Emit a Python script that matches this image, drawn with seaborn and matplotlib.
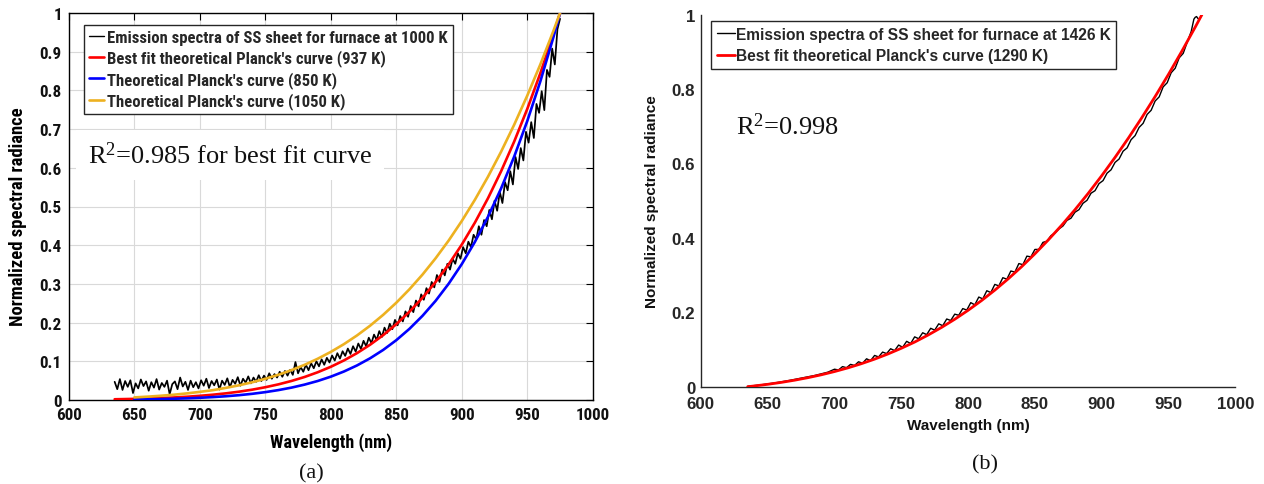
import numpy as np
import pandas as pd
import matplotlib
matplotlib.use("Agg")
import matplotlib.pyplot as plt
from matplotlib.lines import Line2D
from matplotlib import font_manager as fm
import seaborn as sns

sns.set_theme(style="white")
plt.rcParams["font.family"] = ["Liberation Sans", "DejaVu Sans"]
plt.rcParams["mathtext.fontset"] = "custom"
plt.rcParams["mathtext.rm"] = "Liberation Serif"
plt.rcParams["mathtext.it"] = "Liberation Serif:italic"
plt.rcParams["mathtext.bf"] = "Liberation Serif:bold"

SANS = ["Liberation Sans", "DejaVu Sans"]
SERIF = ["Liberation Serif", "DejaVu Serif"]

# panel (a) uses a condensed sans face when one is installed
_installed = {f.name for f in fm.fontManager.ttflist}
_condensed = [n for n in ("Liberation Sans Narrow", "Roboto Condensed",
                          "Arial Narrow") if n in _installed]
if _condensed:
    NARROW = [_condensed[0]] + SANS
    SZ_TICK_A, SZ_LEG_A, SZ_XLAB_A, SZ_YLAB_A = 12.3, 12.0, 13.0, 13.4
else:
    NARROW = SANS
    SZ_TICK_A, SZ_LEG_A, SZ_XLAB_A, SZ_YLAB_A = 10.6, 10.2, 11.0, 11.4

# ---------------- panel (a): furnace at 1000 K ----------------
# measured emission spectrum, 2 nm sampling (635 ... 975 nm)
wl_meas_a = np.arange(635, 976, 2)
emis_a = [
    0.047, 0.028, 0.054, 0.026, 0.049, 0.034, 0.051, 0.018, 0.043, 0.030,
    0.053, 0.036, 0.048, 0.024, 0.046, 0.032, 0.054, 0.027, 0.044, 0.034,
    0.050, 0.015, 0.041, 0.048, 0.028, 0.058, 0.035, 0.047, 0.026, 0.050,
    0.033, 0.046, 0.030, 0.051, 0.037, 0.055, 0.031, 0.049, 0.038, 0.053,
    0.027, 0.050, 0.039, 0.056, 0.033, 0.052, 0.042, 0.059, 0.037, 0.055,
    0.045, 0.061, 0.043, 0.058, 0.047, 0.064, 0.049, 0.063, 0.052, 0.069,
    0.055, 0.067, 0.058, 0.073, 0.060, 0.075, 0.063, 0.078, 0.065, 0.098,
    0.069, 0.085, 0.073, 0.091, 0.077, 0.095, 0.082, 0.100, 0.087, 0.105,
    0.091, 0.109, 0.097, 0.115, 0.102, 0.121, 0.107, 0.126, 0.114, 0.133,
    0.119, 0.139, 0.125, 0.146, 0.132, 0.153, 0.139, 0.161, 0.147, 0.169,
    0.155, 0.178, 0.163, 0.187, 0.173, 0.197, 0.183, 0.207, 0.193, 0.217,
    0.203, 0.229, 0.215, 0.243, 0.227, 0.257, 0.242, 0.273, 0.259, 0.289,
    0.275, 0.305, 0.291, 0.323, 0.305, 0.337, 0.322, 0.352, 0.337, 0.365,
    0.352, 0.379, 0.365, 0.395, 0.379, 0.409, 0.395, 0.427, 0.415, 0.449,
    0.427, 0.465, 0.449, 0.491, 0.467, 0.515, 0.489, 0.538, 0.509, 0.563,
    0.542, 0.591, 0.557, 0.628, 0.597, 0.651, 0.619, 0.693, 0.665, 0.718,
    0.677, 0.765, 0.742, 0.798, 0.749, 0.853, 0.835, 0.908, 0.867, 0.958,
    0.985,
]

wl_fit_937 = [635, 640, 650, 660, 670, 680, 690, 700, 710, 720, 730, 740,
              750, 760, 770, 780, 790, 800, 810, 820, 830, 840, 850, 860,
              870, 880, 890, 900, 910, 920, 930, 940, 950, 960, 970, 975]
fit_937 = [0.0019, 0.0022, 0.0029, 0.0038, 0.0050, 0.0065, 0.0084, 0.0108,
           0.0137, 0.0172, 0.0215, 0.0267, 0.0330, 0.0404, 0.0492, 0.0595,
           0.0717, 0.0858, 0.1022, 0.1211, 0.1428, 0.1676, 0.1959, 0.2280,
           0.2642, 0.3049, 0.3506, 0.4016, 0.4584, 0.5214, 0.5911, 0.6679,
           0.7523, 0.8448, 0.9460, 1.0]

wl_theory = [650, 660, 670, 680, 690, 700, 710, 720, 730, 740, 750, 760,
             770, 780, 790, 800, 810, 820, 830, 840, 850, 860, 870, 880,
             890, 900, 910, 920, 930, 940, 950, 960, 970, 975]
planck_850 = [0.0013, 0.0018, 0.0024, 0.0032, 0.0043, 0.0057, 0.0075, 0.0097,
              0.0125, 0.0160, 0.0203, 0.0256, 0.0320, 0.0398, 0.0491, 0.0603,
              0.0736, 0.0893, 0.1078, 0.1294, 0.1546, 0.1838, 0.2175, 0.2562,
              0.3006, 0.3512, 0.4086, 0.4735, 0.5467, 0.6290, 0.7211, 0.8238,
              0.9382, 1.0]
planck_1050 = [0.0067, 0.0086, 0.0109, 0.0136, 0.0170, 0.0210, 0.0254, 0.0314,
               0.0380, 0.0458, 0.0548, 0.0652, 0.0772, 0.0909, 0.1066, 0.1243,
               0.1443, 0.1668, 0.1920, 0.2201, 0.2514, 0.2860, 0.3241, 0.3662,
               0.4122, 0.4626, 0.5174, 0.5770, 0.6416, 0.7114, 0.7867, 0.8675,
               0.9543, 1.0]

labels_a = ["Emission spectra of SS sheet for furnace at 1000 K",
            "Best fit theoretical Planck's curve (937 K)",
            "Theoretical Planck's curve (850 K)",
            "Theoretical Planck's curve (1050 K)"]

# ---------------- panel (b): furnace at 1426 K ----------------
wl_meas_b = [635, 645, 655, 665, 675, 685, 695,
             700, 703, 706, 709, 712, 715, 718, 721, 724, 727, 730, 733, 736,
             739, 742, 745, 748, 751, 754, 757, 760, 763, 766, 769, 772, 775,
             778, 781, 784, 787, 790, 793, 796, 799, 802, 805, 808, 811, 814,
             817, 820, 823, 826, 829, 832, 835, 838, 841, 844, 847, 850, 853,
             856, 859, 862, 865,
             868, 871, 874, 877, 880, 883, 886, 889, 892, 895, 898, 901, 904,
             907, 910, 913, 916, 919, 922, 925, 928, 931, 934, 937, 940, 943,
             946, 949, 952, 955, 958, 961, 964, 967, 969, 970, 971, 972, 973]
emis_b = [0.001, 0.005, 0.010, 0.016, 0.023, 0.030, 0.039,
          0.047, 0.045, 0.054, 0.051, 0.060, 0.057, 0.067, 0.063, 0.075, 0.070,
          0.084, 0.080, 0.093, 0.089, 0.102, 0.097, 0.112, 0.106, 0.122, 0.116,
          0.134, 0.129, 0.145, 0.140, 0.157, 0.152, 0.169, 0.164, 0.182, 0.178,
          0.195, 0.192, 0.210, 0.206, 0.226, 0.220, 0.241, 0.236, 0.258, 0.253,
          0.275, 0.271, 0.293, 0.289, 0.311, 0.308, 0.331, 0.328, 0.351, 0.349,
          0.369, 0.369, 0.388, 0.391, 0.406, 0.413,
          0.424, 0.432, 0.447, 0.453, 0.469, 0.476, 0.493, 0.501, 0.520, 0.527,
          0.546, 0.554, 0.574, 0.583, 0.603, 0.612, 0.633, 0.642, 0.664, 0.675,
          0.697, 0.708, 0.732, 0.743, 0.768, 0.779, 0.806, 0.817, 0.844, 0.856,
          0.884, 0.896, 0.926, 0.955, 0.988, 0.993, 0.995, 0.990, 0.987]

wl_fit_1290 = [635, 640, 650, 660, 670, 680, 690, 700, 710, 720, 730, 740,
               750, 760, 770, 780, 790, 800, 810, 820, 830, 840, 850, 860,
               870, 880, 890, 900, 910, 920, 930, 940, 950, 960, 970, 975]
fit_1290 = [0.0, 0.0020, 0.0064, 0.0115, 0.0174, 0.0242, 0.0319, 0.0407,
            0.0506, 0.0617, 0.0741, 0.0880, 0.1033, 0.1200, 0.1388, 0.1591,
            0.1813, 0.2054, 0.2314, 0.2596, 0.2899, 0.3224, 0.3573, 0.3944,
            0.4339, 0.4758, 0.5202, 0.5671, 0.6165, 0.6684, 0.7230, 0.7800,
            0.8397, 0.9019, 0.9666, 1.0]

labels_b = ["Emission spectra of SS sheet for furnace at 1426 K",
            "Best fit theoretical Planck's curve (1290 K)"]

x_ticks = [600, 650, 700, 750, 800, 850, 900, 950, 1000]
x_ticklabels = ["600", "650", "700", "750", "800", "850", "900", "950", "1000"]
y_ticks_a = [0, 0.1, 0.2, 0.3, 0.4, 0.5, 0.6, 0.7, 0.8, 0.9, 1.0]
y_ticklabels_a = ["0", "0.1", "0.2", "0.3", "0.4", "0.5", "0.6", "0.7",
                  "0.8", "0.9", "1"]
y_ticks_b = [0, 0.2, 0.4, 0.6, 0.8, 1.0]
y_ticklabels_b = ["0", "0.2", "0.4", "0.6", "0.8", "1"]

C_BLACK = "#000000"
C_RED = "#ff0000"
C_BLUE = "#0000ff"
C_ORANGE = "#edb120"

W, H = 1264, 485
fig = plt.figure(figsize=(W / 100, H / 100), dpi=100)
fig.patch.set_facecolor("white")

# ---------- axes (a) ----------
axA = fig.add_axes([68.8 / W, (H - 401) / H, 524 / W, 387 / H])
sns.lineplot(x=wl_meas_a, y=emis_a, ax=axA, color=C_BLACK, linewidth=1.25,
             estimator=None, sort=False, zorder=3)
sns.lineplot(x=wl_fit_937, y=fit_937, ax=axA, color=C_RED, linewidth=1.9,
             estimator=None, sort=False, zorder=4)
sns.lineplot(x=wl_theory, y=planck_850, ax=axA, color=C_BLUE, linewidth=1.9,
             estimator=None, sort=False, zorder=4)
sns.lineplot(x=wl_theory, y=planck_1050, ax=axA, color=C_ORANGE, linewidth=1.9,
             estimator=None, sort=False, zorder=4)

axA.set_xlim(600, 1000)
axA.set_ylim(0, 1)
axA.set_xticks(x_ticks)
axA.set_xticklabels(x_ticklabels)
axA.set_yticks(y_ticks_a)
axA.set_yticklabels(y_ticklabels_a)
axA.set_axisbelow(True)
axA.grid(True, color="#d9d9d9", linewidth=0.8)
axA.tick_params(direction="in", top=True, right=True, length=5, width=0.8,
                colors="#000000", pad=5)
for lab in axA.get_xticklabels() + axA.get_yticklabels():
    lab.set_family(NARROW)
    lab.set_weight("bold")
    lab.set_fontsize(SZ_TICK_A)
    lab.set_color("#111111")
for sp in axA.spines.values():
    sp.set_visible(True)
    sp.set_color("#000000")
    sp.set_linewidth(1.0)

axA.set_xlabel("Wavelength (nm)", family=NARROW, weight="bold",
               fontsize=SZ_XLAB_A, color="#000000", va="center")
axA.xaxis.set_label_coords(0.5, (401 - 443) / 387)
axA.set_ylabel("Normalized spectral radiance", family=NARROW, weight="bold",
               fontsize=SZ_YLAB_A, color="#000000", va="center")
axA.yaxis.set_label_coords((18.4 - 68.8) / 524, (401 - 217) / 387)

leg_px = SZ_LEG_A * 100 / 72
handles_a = [Line2D([], [], color=C_BLACK, lw=1.0),
             Line2D([], [], color=C_RED, lw=1.9),
             Line2D([], [], color=C_BLUE, lw=1.9),
             Line2D([], [], color=C_ORANGE, lw=1.9)]
legA = axA.legend(handles_a, labels_a, loc="upper left",
                  bbox_to_anchor=(84 / W, 1 - 26 / H),
                  bbox_transform=fig.transFigure, borderaxespad=0,
                  prop=dict(family=NARROW, weight="bold", size=SZ_LEG_A),
                  handlelength=15 / leg_px, handletextpad=3 / leg_px,
                  labelspacing=19.3 / leg_px - 0.886,
                  borderpad=0.3, frameon=True, fancybox=False,
                  edgecolor="#262626", framealpha=1)
legA.get_frame().set_linewidth(1.0)
legA.set_zorder(6)

axA.text((87.7 - 68.8) / 524, (401 - 164) / 387,
         r"R$^{2}$=0.985 for best fit curve", transform=axA.transAxes,
         family=SERIF, fontsize=19, va="baseline", ha="left", color="#111111",
         zorder=5,
         bbox=dict(boxstyle="square,pad=0.45", facecolor="white",
                   edgecolor="none"))

# ---------- axes (b) ----------
axB = fig.add_axes([700.9 / W, (H - 387.7) / H, 534.4 / W, 372 / H])
sns.lineplot(x=wl_meas_b, y=emis_b, ax=axB, color=C_BLACK, linewidth=1.0,
             estimator=None, sort=False, zorder=3)
sns.lineplot(x=wl_fit_1290, y=fit_1290, ax=axB, color=C_RED, linewidth=2.0,
             estimator=None, sort=False, zorder=4)

axB.set_xlim(600, 1000)
axB.set_ylim(0, 1)
axB.set_xticks(x_ticks)
axB.set_xticklabels(x_ticklabels)
axB.set_yticks(y_ticks_b)
axB.set_yticklabels(y_ticklabels_b)
axB.grid(False)
axB.tick_params(direction="in", length=6, width=0.9, colors="#262626", pad=7)
axB.tick_params(axis="y", pad=4)
for lab in axB.get_xticklabels() + axB.get_yticklabels():
    lab.set_family(SANS)
    lab.set_weight("bold")
    lab.set_fontsize(12.2)
    lab.set_color("#262626")
axB.spines["top"].set_visible(False)
axB.spines["right"].set_visible(False)
for side in ("left", "bottom"):
    axB.spines[side].set_visible(True)
    axB.spines[side].set_color("#262626")
    axB.spines[side].set_linewidth(1.0)

axB.set_xlabel("Wavelength (nm)", family=SANS, weight="bold", fontsize=11,
               color="#111111", va="center")
axB.xaxis.set_label_coords(0.5, (387.7 - 426) / 372)
axB.set_ylabel("Normalized spectral radiance", family=SANS, weight="bold",
               fontsize=11, color="#111111", va="center")
axB.yaxis.set_label_coords((652 - 700.9) / 534.4, 0.5)

handles_b = [Line2D([], [], color=C_BLACK, lw=1.0),
             Line2D([], [], color=C_RED, lw=2.0)]
legB = axB.legend(handles_b, labels_b, loc="upper left",
                  bbox_to_anchor=(711 / W, 1 - 22 / H),
                  bbox_transform=fig.transFigure, borderaxespad=0,
                  prop=dict(family=SANS, weight="bold", size=11.2),
                  handlelength=1.15, handletextpad=0.05, labelspacing=0.42,
                  borderpad=0.38, frameon=True, fancybox=False,
                  edgecolor="#262626", framealpha=1)
legB.get_frame().set_linewidth(1.0)

axB.text((735.5 - 700.9) / 534.4, (387.7 - 135) / 372, r"R$^{2}$=0.998",
         transform=axB.transAxes, family=SERIF, fontsize=19, va="baseline",
         ha="left", color="#111111")

# panel captions
fig.text(311 / W, 1 - 474 / H, "(a)", family=SERIF, fontsize=16,
         ha="center", va="center", color="#111111")
fig.text(985 / W, 1 - 465 / H, "(b)", family=SERIF, fontsize=16,
         ha="center", va="center", color="#111111")

fig.savefig("out.png", dpi=100, facecolor="white")
